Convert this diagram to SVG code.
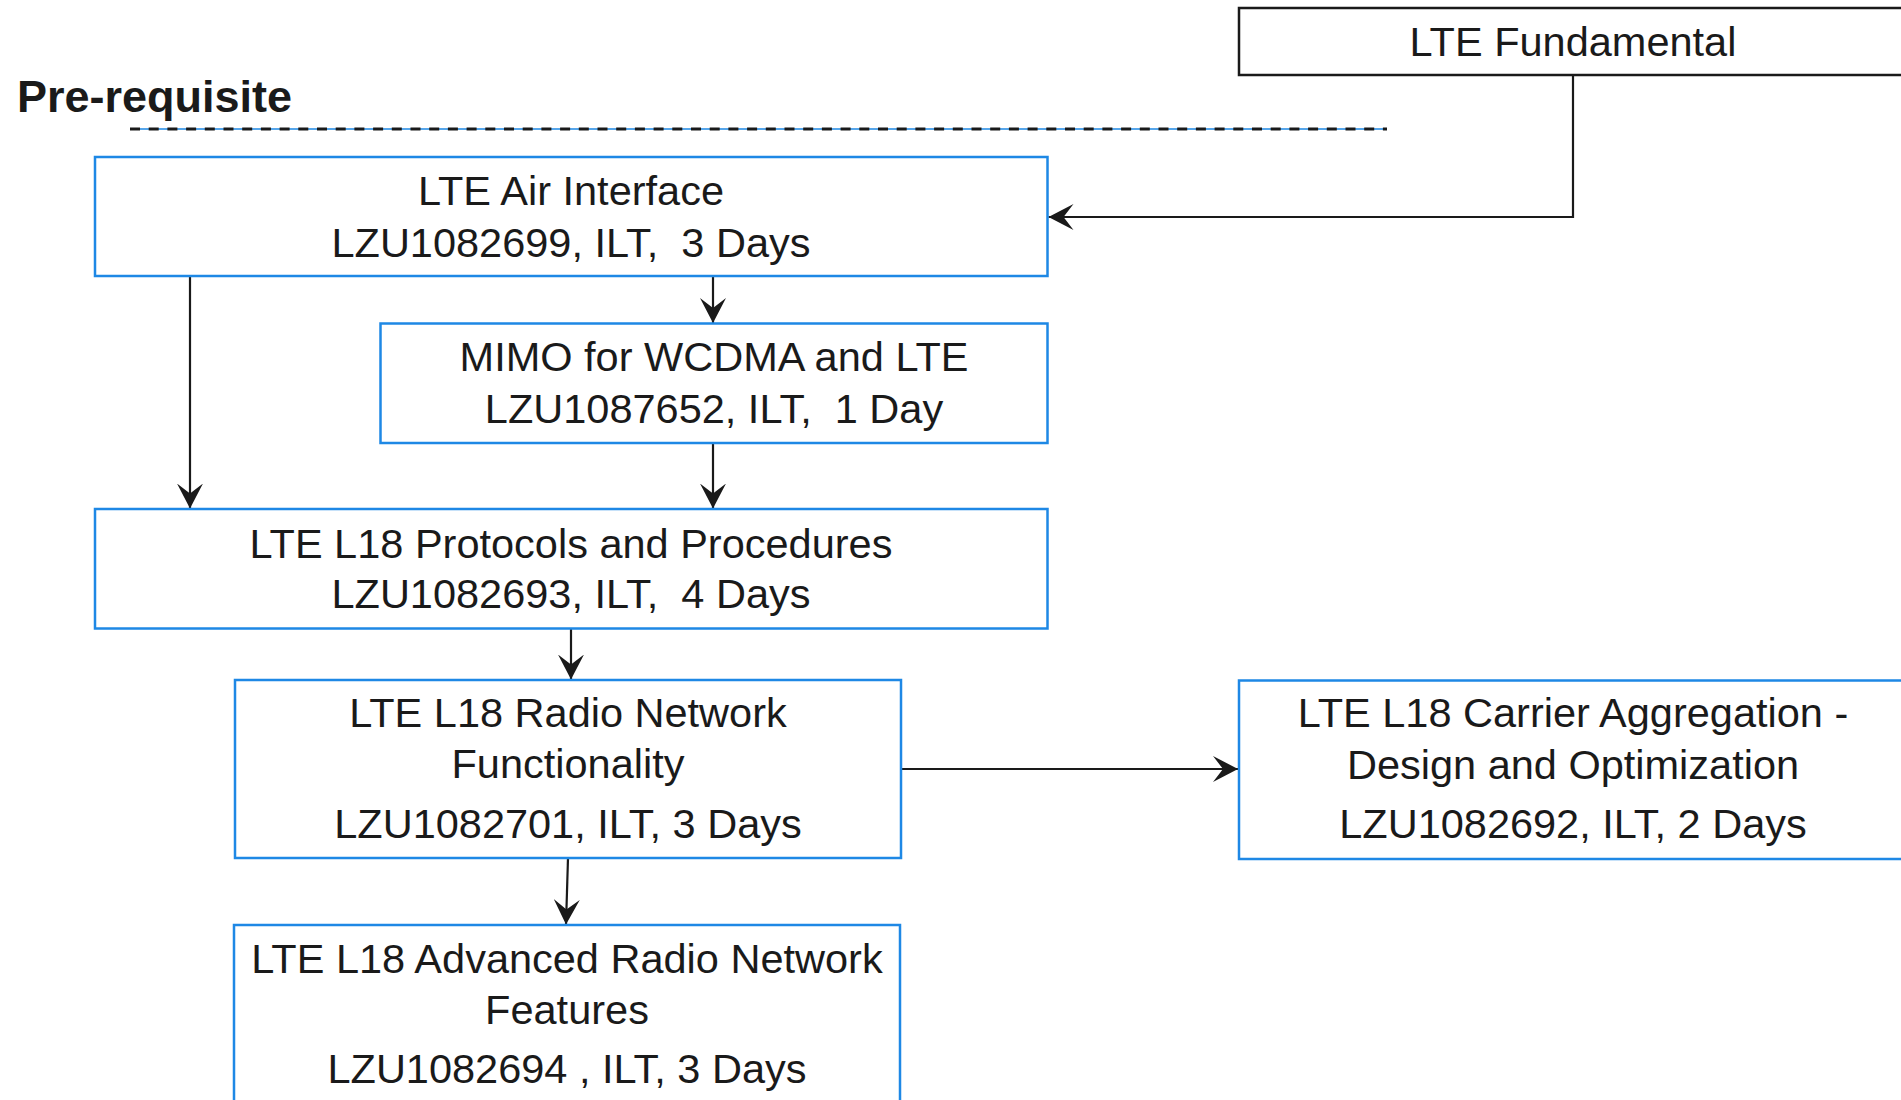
<svg xmlns="http://www.w3.org/2000/svg" width="1901" height="1100" viewBox="0 0 1901 1100">
  <defs>
    <style>
      .box { fill: #ffffff; stroke: #1e88e5; stroke-width: 2.5; }
      .box-dark { fill: #ffffff; stroke: #1a1a1a; stroke-width: 2.5; }
      .lbl { font-family: "Liberation Sans", Arial, sans-serif; font-size: 41.5px; fill: #1a1a1a; text-anchor: middle; white-space: pre; }
      .title { font-family: "Liberation Sans", Arial, sans-serif; font-size: 45px; font-weight: bold; fill: #1a1a1a; }
      .conn { fill: none; stroke: #1a1a1a; stroke-width: 2.2; marker-end: url(#arrow); }
    </style>
    <marker id="arrow" markerUnits="userSpaceOnUse" markerWidth="26" markerHeight="26" refX="25" refY="13" orient="auto" viewBox="0 0 26 26">
      <path d="M0,0 L25,13 L0,26 L10,13 Z" fill="#1a1a1a"/>
    </marker>
  </defs>
  <rect width="1901" height="1100" fill="#ffffff"/>

  <g id="header">
    <text class="title" x="17" y="112">Pre-requisite</text>
    <line x1="130" y1="129" x2="1387" y2="129" stroke="#1e88e5" stroke-width="1.3"/>
    <line x1="130" y1="129" x2="1387" y2="129" stroke="#1a1a1a" stroke-width="3.2" stroke-dasharray="10 8.7"/>
  </g>

  <g id="connectors">
    <path class="conn" d="M1573,75 V217 H1048.5"/>
    <path class="conn" d="M713,276 V323"/>
    <path class="conn" d="M190,276 V508.5"/>
    <path class="conn" d="M713,443 V508.5"/>
    <path class="conn" d="M571,627 V679.5"/>
    <path class="conn" d="M901,769 H1238"/>
    <path class="conn" d="M568,858 L566,924.5"/>
  </g>

  <g id="node-lte-fundamental">
    <rect class="box-dark" x="1239" y="8" width="668" height="67"/>
    <text class="lbl" x="1573" y="56">LTE Fundamental</text>
  </g>

  <g id="node-air-interface">
    <rect class="box" x="95" y="157" width="952.5" height="119"/>
    <text class="lbl" x="571" y="205">LTE Air Interface</text>
    <text class="lbl" x="571" y="257">LZU1082699, ILT,  3 Days</text>
  </g>

  <g id="node-mimo">
    <rect class="box" x="380.5" y="323.5" width="667" height="119.5"/>
    <text class="lbl" x="714" y="371">MIMO for WCDMA and LTE</text>
    <text class="lbl" x="714" y="423">LZU1087652, ILT,  1 Day</text>
  </g>

  <g id="node-protocols">
    <rect class="box" x="95" y="509" width="952.5" height="119.5"/>
    <text class="lbl" x="571" y="558">LTE L18 Protocols and Procedures</text>
    <text class="lbl" x="571" y="608">LZU1082693, ILT,  4 Days</text>
  </g>

  <g id="node-radio-network">
    <rect class="box" x="235" y="680" width="666" height="178"/>
    <text class="lbl" x="568" y="727">LTE L18 Radio Network</text>
    <text class="lbl" x="568" y="778">Functionality</text>
    <text class="lbl" x="568" y="838">LZU1082701, ILT, 3 Days</text>
  </g>

  <g id="node-carrier-aggregation">
    <rect class="box" x="1239" y="680.5" width="668" height="178.5"/>
    <text class="lbl" x="1573" y="727">LTE L18 Carrier Aggregation -</text>
    <text class="lbl" x="1573" y="779">Design and Optimization</text>
    <text class="lbl" x="1573" y="838">LZU1082692, ILT, 2 Days</text>
  </g>

  <g id="node-advanced-radio">
    <rect class="box" x="234" y="925" width="666" height="220"/>
    <text class="lbl" x="567" y="973">LTE L18 Advanced Radio Network</text>
    <text class="lbl" x="567" y="1024">Features</text>
    <text class="lbl" x="567" y="1083">LZU1082694 , ILT, 3 Days</text>
  </g>
</svg>
